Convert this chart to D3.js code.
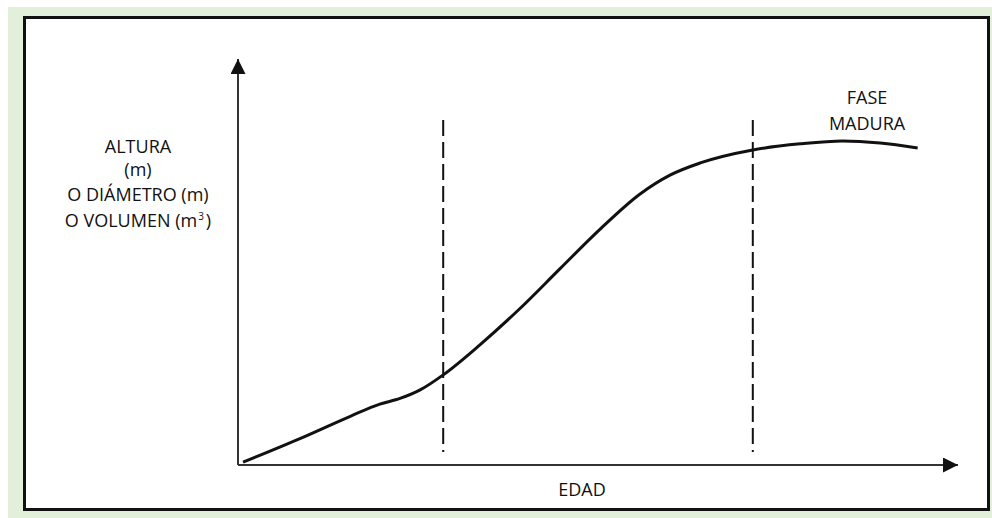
<!DOCTYPE html>
<html>
<head>
<meta charset="utf-8">
<script src="https://cdn.jsdelivr.net/npm/d3@7"></script>
<style>
  body { margin: 0; background: #fff; }
  #chart { width: 992px; height: 518px; }
  text { font-family: "Open Sans", sans-serif; fill: #111; }
</style>
</head>
<body>
<div id="chart"></div>
<script>
// curva de crecimiento (unidades relativas, edad 0-100, tamaño 0-100)
const edad   = [0.7, 8.6, 15.6, 19.7, 22.5, 25.3, 28.5, 33.6, 39.2, 44.7, 50.3, 55.8, 60, 64.2, 71.5, 78.1, 84, 89.2, 94.4]
const tamano = [0.7, 6.5, 12.0, 15.0, 16.4, 18.5, 22.2, 29.6, 38.6, 48.3, 58.1, 66.7, 71.4, 74.4, 77.6, 79.1, 79.8, 79.3, 78.1]

// limites de fases (lineas discontinuas)
const fases = [28.5, 71.5]
const faseY = [3.2, 85]

const yLabel = ["ALTURA", "(m)", "O DIÁMETRO (m)"]
const xLabel = "EDAD"
const faseLabel = ["FASE", "MADURA"]

const W = 992, H = 518

const svg = d3.select("#chart").append("svg")
    .attr("width", W)
    .attr("height", H)

// fondo verde + caja blanca
svg.append("rect")
    .attr("x", 8).attr("y", 7)
    .attr("width", W - 8).attr("height", H - 7)
    .attr("fill", "#e2efd9")
svg.append("rect")
    .attr("x", 24.5).attr("y", 17.5)
    .attr("width", 964).attr("height", 492)
    .attr("fill", "#fff")
    .attr("stroke", "#111")
    .attr("stroke-width", 3)

const x = d3.scaleLinear().domain([0, 100]).range([238, 958])
const y = d3.scaleLinear().domain([0, 100]).range([465, 59])

// flechas
const defs = svg.append("defs")
defs.append("marker")
    .attr("id", "arrow")
    .attr("viewBox", "0 0 10 10")
    .attr("refX", 10).attr("refY", 5)
    .attr("markerWidth", 15).attr("markerHeight", 15)
    .attr("markerUnits", "userSpaceOnUse")
    .attr("orient", "auto")
    .append("path")
    .attr("d", "M0,0 L10,5 L0,10 Z")
    .attr("fill", "#111")

// ejes
svg.append("line")
    .attr("x1", x(0)).attr("y1", y(0))
    .attr("x2", x(0)).attr("y2", y(100))
    .attr("stroke", "#333").attr("stroke-width", 2)
    .attr("marker-end", "url(#arrow)")
svg.append("line")
    .attr("x1", x(0)).attr("y1", y(0))
    .attr("x2", x(100)).attr("y2", y(0))
    .attr("stroke", "#333").attr("stroke-width", 2)
    .attr("marker-end", "url(#arrow)")

// lineas discontinuas
svg.selectAll("line.fase")
    .data(fases)
    .join("line")
    .attr("class", "fase")
    .attr("x1", d => x(d)).attr("x2", d => x(d))
    .attr("y1", y(faseY[1])).attr("y2", y(faseY[0]))
    .attr("stroke", "#111")
    .attr("stroke-width", 2)
    .attr("stroke-dasharray", "16,6")

// curva
const pts = edad.map((e, i) => [e, tamano[i]])
const line = d3.line()
    .x(d => x(d[0]))
    .y(d => y(d[1]))
    .curve(d3.curveMonotoneX)
svg.append("path")
    .datum(pts)
    .attr("d", line)
    .attr("fill", "none")
    .attr("stroke", "#111")
    .attr("stroke-width", 3)

// textos
const fs = 18
const yl = svg.append("text")
    .attr("text-anchor", "middle")
    .attr("font-size", fs)
const base = [153, 176, 201]
yLabel.forEach((t, i) => {
    yl.append("tspan").attr("x", 138).attr("y", base[i]).text(t)
})
const vol = svg.append("text")
    .attr("x", 138).attr("y", 227)
    .attr("text-anchor", "middle")
    .attr("font-size", fs)
vol.append("tspan").text("O VOLUMEN (m")
vol.append("tspan").attr("dy", -7).attr("font-size", 10).attr("dx", 1).text("3")
vol.append("tspan").attr("dy", 7).attr("dx", 2).text(")")

svg.append("text")
    .attr("x", 582).attr("y", 496)
    .attr("text-anchor", "middle")
    .attr("font-size", fs)
    .text(xLabel)

svg.selectAll("text.fase")
    .data(faseLabel)
    .join("text")
    .attr("class", "fase")
    .attr("x", 867)
    .attr("y", (d, i) => 104 + i * 26)
    .attr("text-anchor", "middle")
    .attr("font-size", fs)
    .text(d => d)
</script>
</body>
</html>
